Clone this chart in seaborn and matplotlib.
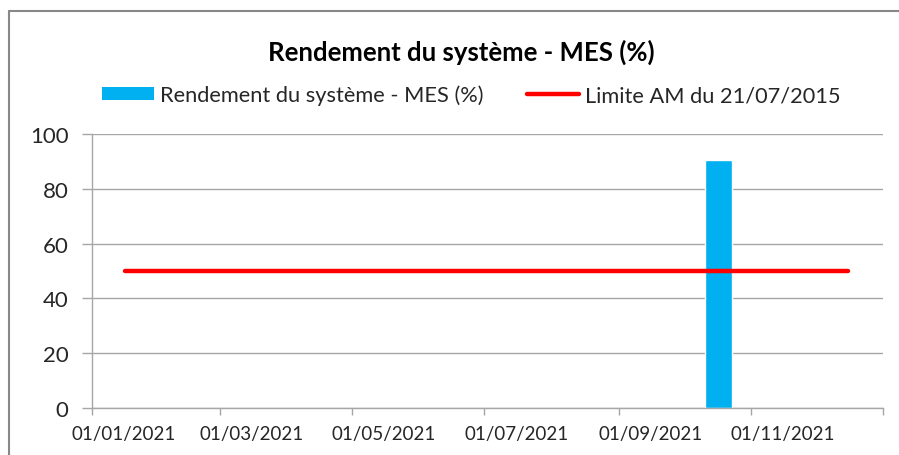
import matplotlib
matplotlib.use("Agg")
import matplotlib.pyplot as plt
import matplotlib.dates as mdates
import matplotlib.transforms as mtransforms
import seaborn as sns
import pandas as pd
from matplotlib.patches import Patch
from matplotlib.lines import Line2D

# ---- data ----
bar_dates = ["2021-10-17"]
bar_values = [90.5]
limit_dates = ["2021-01-16", "2021-12-16"]
limit_values = [50, 50]
tick_dates = ["2021-01-01", "2021-03-01", "2021-05-01", "2021-07-01",
              "2021-09-01", "2021-11-01", "2022-01-01"]
tick_labels = ["01/01/2021", "01/03/2021", "01/05/2021", "01/07/2021",
               "01/09/2021", "01/11/2021", ""]
y_ticks = [0, 20, 40, 60, 80, 100]
title = "Rendement du système - MES (%)"
bar_label = "Rendement du système - MES (%)"
limit_label = "Limite AM du 21/07/2015"

sns.set_theme(style="white")
plt.rcParams["font.family"] = ["Lato", "DejaVu Sans"]

fig = plt.figure(figsize=(8.99, 4.56), dpi=100)
ax = fig.add_axes([92/899, 1-409/456, (883-92)/899, (409-135)/456])

bar_df = pd.DataFrame({"x": mdates.date2num(pd.to_datetime(bar_dates)), "y": bar_values})
lim_df = pd.DataFrame({"x": mdates.date2num(pd.to_datetime(limit_dates)), "y": limit_values})

sns.barplot(data=bar_df, x="x", y="y", native_scale=True, width=12.5,
            color="#00B0F0", saturation=1, ax=ax, zorder=2, legend=False)
sns.lineplot(data=lim_df, x="x", y="y", color="#FF0000", linewidth=3.2,
             ax=ax, zorder=3, legend=False, solid_capstyle="round")

ticks = mdates.date2num(pd.to_datetime(tick_dates))
ax.set_xlim(ticks[0], ticks[-1])
ax.set_xticks(ticks)
ax.set_xticklabels(tick_labels, fontsize=13.5, color="#262626")
ax.set_ylim(0, 100)
ax.set_yticks(y_ticks)
ax.set_yticklabels([str(v) for v in y_ticks], fontsize=16, color="#262626")
ax.tick_params(axis="y", length=7, width=1, color="#A6A6A6", direction="out",
               pad=10, left=True)
ax.tick_params(axis="x", length=5, width=1, color="#A6A6A6", direction="out",
               pad=7, bottom=True)
# Excel places date labels slightly to the right of their tick marks
offset = mtransforms.ScaledTranslation(32/100, 0, fig.dpi_scale_trans)
for lab in ax.get_xticklabels():
    lab.set_transform(lab.get_transform() + offset)
ax.set_xlabel("")
ax.set_ylabel("")
ax.grid(axis="y", color="#A6A6A6", linewidth=1)
ax.set_axisbelow(True)
for s in ["top", "right"]:
    ax.spines[s].set_visible(False)
for s in ["left", "bottom"]:
    ax.spines[s].set_color("#A6A6A6")
    ax.spines[s].set_linewidth(1)

fig.text(461/899, 1-52/456, title, ha="center", va="center",
         fontsize=18.5, fontweight="bold", color="black")

handles = [Patch(facecolor="#00B0F0", edgecolor="none", label=bar_label),
           Line2D([0], [0], color="#FF0000", linewidth=3.2, label=limit_label)]
fig.legend(handles=handles, loc="center", bbox_to_anchor=(471/899, 1-96/456),
           ncol=2, frameon=False, fontsize=15.7, handlelength=2.4,
           handleheight=0.55, handletextpad=0.25, columnspacing=2.0,
           labelcolor="#262626")

# outer chart border (left and top only visible in the crop)
fig.add_artist(Line2D([9/899, 9/899], [0, 1-12/456], transform=fig.transFigure,
                      color="#888888", linewidth=1.5))
fig.add_artist(Line2D([9/899, 1], [1-12/456, 1-12/456], transform=fig.transFigure,
                      color="#888888", linewidth=1.5))

fig.savefig("out.png", dpi=100)
